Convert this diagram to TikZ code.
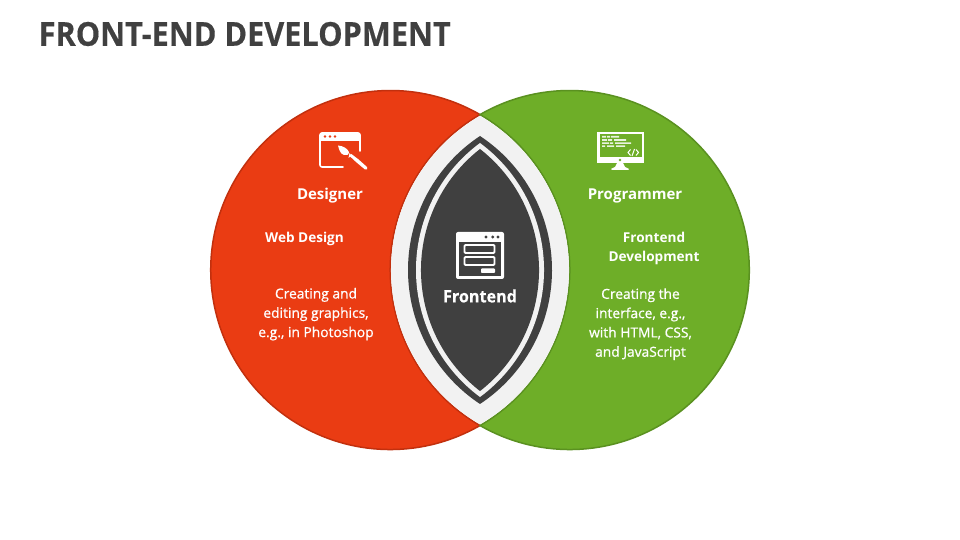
\documentclass[tikz,border=0pt]{standalone}
\usepackage{fontspec}
\setmainfont{Open Sans}
\newfontfamily\bodyf[FakeBold=0.8]{Open Sans}
\newfontfamily\titlef[BoldFeatures={FakeStretch=0.93,FakeBold=0.35}]{Open Sans}
\newfontfamily\centf[BoldFeatures={FakeStretch=0.95,FakeBold=0.3}]{Open Sans}
\definecolor{redf}{HTML}{EA3C13}
\definecolor{redd}{HTML}{C2300E}
\definecolor{grnf}{HTML}{6EAE28}
\definecolor{grnd}{HTML}{5A9120}
\definecolor{lensg}{HTML}{F2F2F2}
\definecolor{dk}{HTML}{404040}
\tikzset{
  titletext/.style={font=\titlef\bfseries\fontsize{33}{36}\selectfont,text=dk,anchor=west,inner sep=0pt},
  headtext/.style={font=\bfseries\fontsize{15}{19}\selectfont,text=white,align=center,inner sep=0pt},
  subtext/.style={font=\bfseries\fontsize{13.6}{19}\selectfont,text=white,align=center,inner sep=0pt},
  bodytext/.style={font=\bodyf\fontsize{13.8}{19.3}\selectfont,text=white,align=center,inner sep=0pt},
  iconline/.style={draw=white,line width=1.6pt,line cap=round,line join=round},
  iconlinedk/.style={draw=white,line width=1.9pt,line join=round,rounded corners=1pt},
}
\begin{document}
\begin{tikzpicture}[x=1pt,y=1pt]
\useasboundingbox[fill=white] (0,0) rectangle (960,540);
% crescents
\draw[fill=redf,draw=redd,line width=1.5pt,line join=miter] (480,425.4) arc[start angle=60,end angle=300,radius=179.5] arc[start angle=240,end angle=120,radius=179.5] -- cycle;
\draw[fill=grnf,draw=grnd,line width=1.5pt,line join=miter] (480,425.4) arc[start angle=120,end angle=-120,radius=179.5] arc[start angle=-60,end angle=60,radius=179.5] -- cycle;
% lens
\fill[lensg] (480,424) arc[start angle=120,end angle=240,radius=178] arc[start angle=-60,end angle=60,radius=178] -- cycle;
\fill[dk] (480,404) arc[start angle=123.5,end angle=236.5,radius=160.7] arc[start angle=-56.5,end angle=56.5,radius=160.7] -- cycle;
\fill[lensg] (480,397) arc[start angle=126.5,end angle=233.5,radius=158] arc[start angle=-53.5,end angle=53.5,radius=158] -- cycle;
\fill[dk] (480,391) arc[start angle=128,end angle=232,radius=153.6] arc[start angle=-52,end angle=52,radius=153.6] -- cycle;
% designer icon
\draw[iconline] (343,373) -- (322,373) arc[start angle=270,end angle=180,radius=2] -- (320,405) arc[start angle=180,end angle=90,radius=2] -- (358,407) arc[start angle=90,end angle=0,radius=2] -- (360,389);
\draw[iconline] (320,400) -- (360,400);
\fill[white] (320,400) -- (320,405) arc[start angle=180,end angle=90,radius=2] -- (358,407) arc[start angle=90,end angle=0,radius=2] -- (360,400) -- cycle;
\fill[redf] (325,403.5) circle[radius=1.4] (330,403.5) circle[radius=1.4] (335,403.5) circle[radius=1.4];
\fill[white] (338,394.5) .. controls (343,394) and (347,392) .. (349,388) .. controls (349,385) and (346,384) .. (344,385) .. controls (340,386) and (339,391) .. (338,394.5) -- cycle;
\fill[white] (349.5,387) -- (351.5,384.5) -- (348.5,382) -- cycle;
\fill[white] (351.5,386) .. controls (353,384) and (356,383) .. (358,381) -- (367,373) .. controls (368,371) and (367,369.5) .. (365,370.5) -- (356,378) .. controls (354,380) and (352,382) .. (350,383.5) -- cycle;
% programmer icon
\fill[white] (597,377) rectangle (644,408);
\fill[grnf] (600,383) rectangle (642,406);
\fill[white] (617,377) -- (623,377) -- (625,373) -- (629,371) -- (628,370) -- (612,370) -- (611,371) -- (615,373) -- cycle;
\fill[grnf] (620,380) circle[radius=1.4];
\fill[white!85!grnf] (602,404) rectangle (606,402.4) (607,404) rectangle (610,402.4) (611,404) rectangle (619,402.4)
 (602,400.8) rectangle (607,399.2) (608,400.8) rectangle (612,399.2) (614,400.8) rectangle (626,399.2)
 (602,397.7) rectangle (609,396.1) (610,397.7) rectangle (613,396.1) (615,397.7) rectangle (631,396.1)
 (602,394.6) rectangle (605,393) (607,394.6) rectangle (614,393) (616,394.6) rectangle (625,393);
\draw[white,line width=1pt] (630.5,390.5) -- (628,387.5) -- (630.5,384.5) (636,390.5) -- (638.5,387.5) -- (636,384.5) (634.5,391) -- (632,384);
% frontend icon
\fill[white,rounded corners=2pt] (456,261) rectangle (504,308);
\fill[dk] (459,264) rectangle (501,298);
\fill[dk] (486,303) circle[radius=1.7] (492.7,303) circle[radius=1.7] (498,303) circle[radius=1.7];
\draw[iconlinedk] (464.5,287) rectangle (494.5,295);
\draw[iconlinedk] (464.5,275) rectangle (494.5,283);
\fill[white,rounded corners=0.8pt] (481,267) rectangle (495,271.5);
% text
\node[titletext] (title) at (38.5,506) {FRONT-END DEVELOPMENT};
\node[headtext] (designer) at (330,344) {Designer};
\node[headtext] (programmer) at (635,344) {Programmer};
\node[subtext] (webdesign) at (304.5,300.8) {Web Design};
\node[subtext] (fedev) at (654,291.3) {Frontend\\Development};
\node[font=\centf\bfseries\fontsize{17}{20}\selectfont,text=white,inner sep=0pt] (frontend) at (480,244) {Frontend};
\node[bodytext] (leftbody) at (316,225.8) {Creating and\\editing graphics,\\e.g., in Photoshop};
\node[bodytext] (rightbody) at (640.5,215.8) {Creating the\\interface, e.g.,\\with HTML, CSS,\\and JavaScript};
\end{tikzpicture}
\end{document}
